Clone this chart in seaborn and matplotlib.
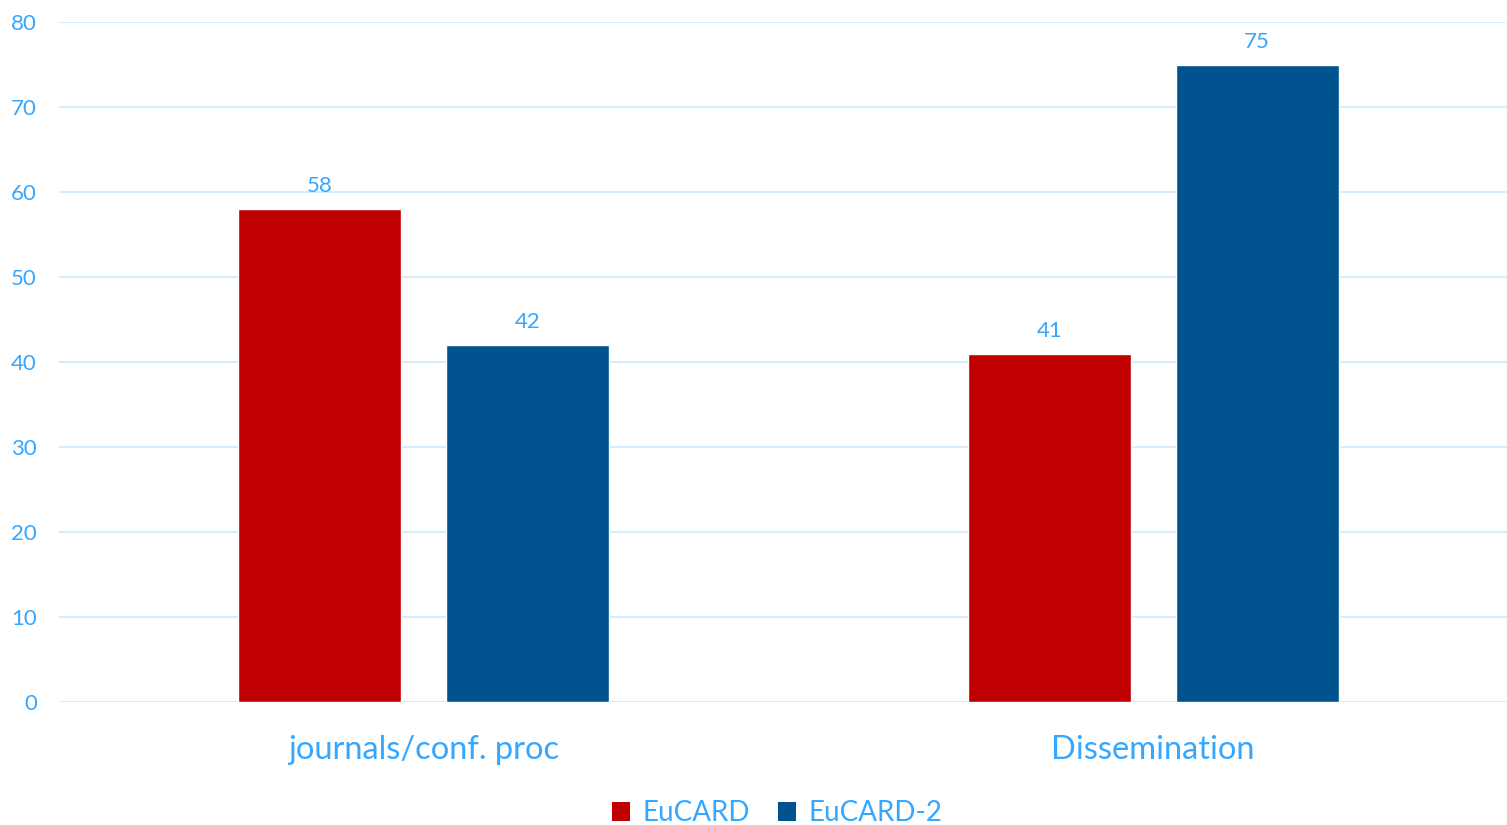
import matplotlib
matplotlib.use("Agg")
import matplotlib.pyplot as plt
import seaborn as sns
import pandas as pd
from matplotlib.patches import Patch

categories = ["journals/conf. proc", "Dissemination"]
series_names = ["EuCARD", "EuCARD-2"]
eucard = [58, 41]
eucard2 = [42, 75]
yticks = [0, 10, 20, 30, 40, 50, 60, 70, 80]

colors = {"EuCARD": "#C00000", "EuCARD-2": "#00538F"}
text_color = "#35A7FF"
grid_color = "#D4ECFB"

df = pd.DataFrame({
    "category": categories * 2,
    "series": [series_names[0]] * 2 + [series_names[1]] * 2,
    "value": eucard + eucard2,
})

sns.set_theme(style="white")
plt.rcParams["font.family"] = ["Lato", "DejaVu Sans"]

fig = plt.figure(figsize=(15.07, 8.25), dpi=100)
ax = fig.add_axes([59 / 1507, 123 / 825, 1 - 59 / 1507, 680 / 825])

sns.barplot(data=df, x="category", y="value", hue="series", order=categories,
            hue_order=series_names, palette=colors, width=0.57, gap=0.216,
            saturation=1, ax=ax, legend=False, zorder=3)

for c in ax.containers:
    ax.bar_label(c, padding=9, fontsize=16, color=text_color)

ax.set_ylim(0, 80)
ax.set_xlim(-0.5, 1.485)
ax.set_yticks(yticks)
ax.set_yticklabels([str(t) for t in yticks])
ax.grid(axis="y", color=grid_color, linewidth=1.5, zorder=0)
ax.set_axisbelow(True)
for s in ax.spines.values():
    s.set_visible(False)
ax.tick_params(axis="y", length=0, pad=16, labelsize=16, labelcolor=text_color)
ax.tick_params(axis="x", length=0, pad=24, labelsize=23.5, labelcolor=text_color)
ax.set_xlabel("")
ax.set_ylabel("")

handles = [Patch(facecolor=colors[n], edgecolor="none") for n in series_names]
fig.legend(handles, series_names, loc="center", bbox_to_anchor=(777 / 1507, 1 - 813 / 825),
           ncol=2, frameon=False, fontsize=20, labelcolor=text_color,
           handlelength=0.65, handleheight=0.65, handletextpad=0.45, columnspacing=1.0)

fig.savefig("out.png", dpi=100)
